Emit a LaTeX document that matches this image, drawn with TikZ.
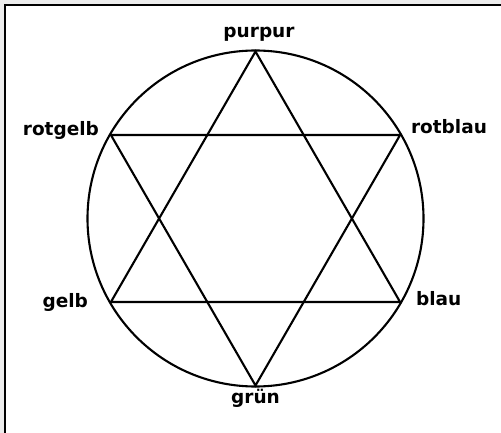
\documentclass[tikz,border=0pt]{standalone}
\usepackage{fontspec}
\setmainfont{DejaVu Sans}
\usetikzlibrary{calc}
\begin{document}
\begin{tikzpicture}[x=1pt,y=-1pt,line width=2.1pt,
  lbl/.style={inner sep=0pt,font=\fontsize{18.5}{20}\selectfont\bfseries}]
\useasboundingbox (0,0) rectangle (501,433);
\fill[gray!15] (0,0) rectangle (501,4);
\fill[gray!15] (0,0) rectangle (4,433);
\draw[line width=1.8pt] (5,433) -- (5,5) -- (501,5);
\coordinate (c) at (255.5,218.5);
\draw (c) circle[radius=168pt];
\coordinate (pp) at ($(c)+(0,-167)$);
\coordinate (gr) at ($(c)+(0,167)$);
\coordinate (rg) at ($(c)+(-144.6,-83.5)$);
\coordinate (rb) at ($(c)+(144.6,-83.5)$);
\coordinate (ge) at ($(c)+(-144.6,83.5)$);
\coordinate (bl) at ($(c)+(144.6,83.5)$);
\draw[line join=miter] (pp) -- (ge) -- (bl) -- cycle;
\draw[line join=miter] (gr) -- (rg) -- (rb) -- cycle;
\node[lbl,anchor=base] (tpp) at (259,38) {purpur};
\node[lbl,anchor=base] (tgr) at (255.5,403) {grün};
\node[lbl,anchor=base east] (trg) at (100,136) {rotgelb};
\node[lbl,anchor=base west] (trb) at (410,134) {rotblau};
\node[lbl,anchor=base east] (tge) at (89,307) {gelb};
\node[lbl,anchor=base west] (tbl) at (415,305) {blau};
\end{tikzpicture}
\end{document}
